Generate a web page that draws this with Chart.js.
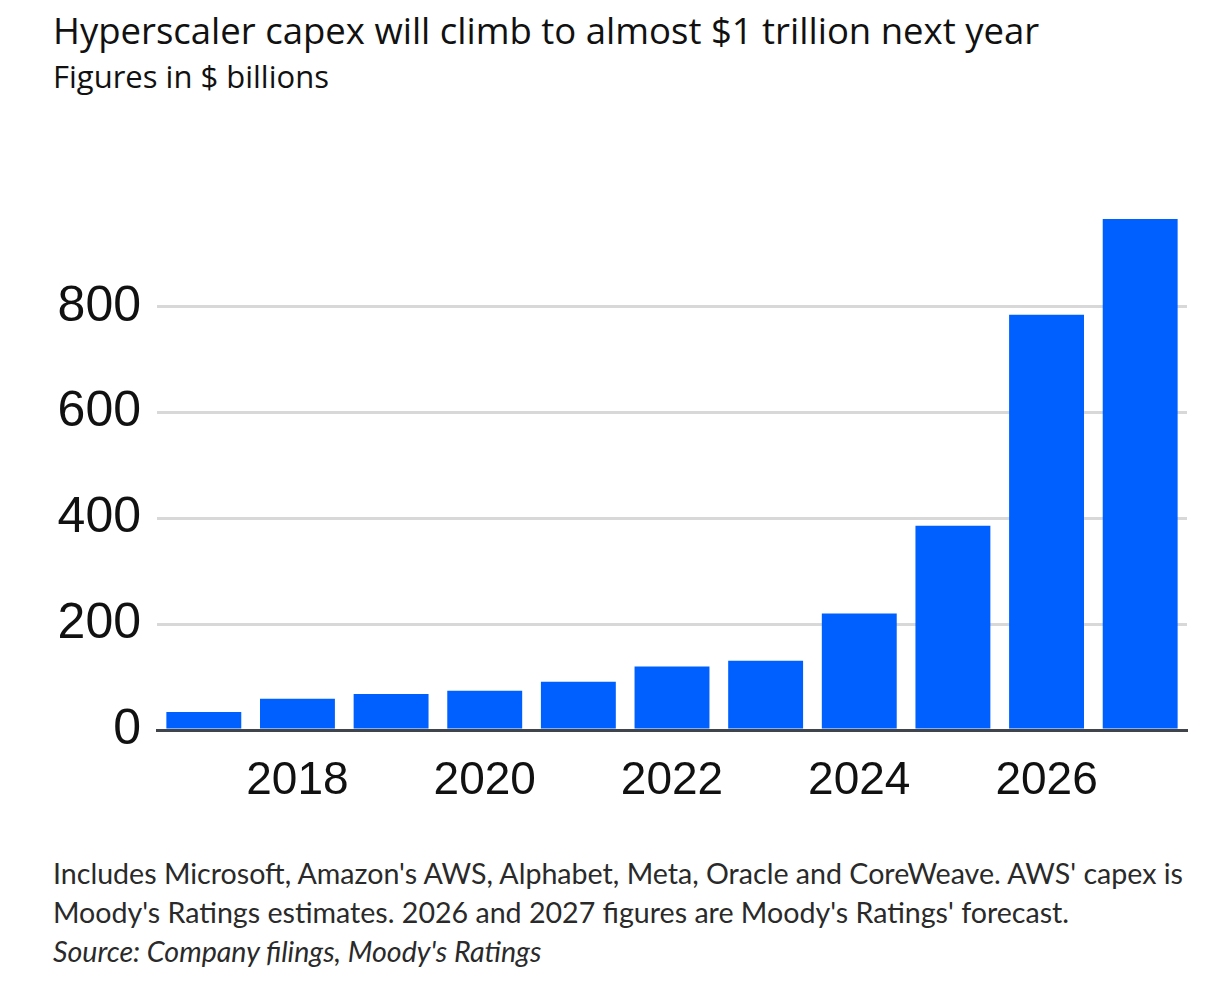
<!DOCTYPE html>
<html>
<head>
<meta charset="utf-8">
<script src="https://cdn.jsdelivr.net/npm/chart.js@4/dist/chart.umd.min.js"></script>
<style>
  body { margin: 0; background: #fff; width: 1212px; height: 988px; overflow: hidden; }
  .title { position: absolute; left: 53px; top: 5px; font-family: "Open Sans", sans-serif; font-weight: 500; font-size: 36.5px; color: #111; white-space: nowrap; }
  .subtitle { position: absolute; left: 53px; top: 55px; font-family: "Open Sans", sans-serif; font-weight: 500; font-size: 31px; color: #111; white-space: nowrap; }
  .chart-wrap { position: absolute; left: 0; top: 110px; width: 1212px; height: 700px; }
  .notes { position: absolute; left: 53px; top: 854px; font-family: Lato, sans-serif; font-size: 28.6px; line-height: 39px; color: #2a2a2a; white-space: nowrap; }
  .notes i { font-style: italic; }
</style>
</head>
<body>
<div class="title">Hyperscaler capex will climb to almost $1 trillion next year</div>
<div class="subtitle">Figures in $ billions</div>
<div class="chart-wrap"><canvas id="myChart" width="1212" height="700"></canvas></div>
<div class="notes">
  Includes Microsoft, Amazon's AWS, Alphabet, Meta, Oracle and CoreWeave. AWS' capex is<br>
  Moody's Ratings estimates. 2026 and 2027 figures are Moody's Ratings' forecast.<br>
  <i>Source: Company filings, Moody's Ratings</i>
</div>
<script>
const years = ['2017', '2018', '2019', '2020', '2021', '2022', '2023', '2024', '2025', '2026', '2027'];
const capex = [34, 59, 68, 74, 91, 120, 131, 220, 386, 785, 966];
const xTickLabels = ['2018', '2020', '2022', '2024', '2026'];
const yTickValues = [0, 200, 400, 600, 800];

const data = {
    labels: years,
    datasets: [
        {
            label: 'Capex',
            data: capex,
            backgroundColor: '#0060ff',
            borderWidth: 0,
            barPercentage: 0.8,
            categoryPercentage: 1
        }
    ]
};

const options = {
    responsive: false,
    animation: false,
    layout: {
        padding: { top: 91, right: 25, left: 0, bottom: 0 }
    },
    scales: {
        x: {
            grid: { display: false },
            border: { color: '#3f454b', width: 3 },
            afterFit: (scale) => { scale.height = 80; },
            ticks: {
                autoSkip: false,
                maxRotation: 0,
                padding: 16,
                font: { family: 'Liberation Sans', size: 46 },
                color: '#111',
                callback: function (value) {
                    const label = this.getLabelForValue(value);
                    return xTickLabels.includes(label) ? label : '';
                }
            }
        },
        y: {
            min: 0,
            max: 1000,
            afterFit: (scale) => { scale.width = 157; },
            afterBuildTicks: (scale) => {
                scale.ticks = yTickValues.map(v => ({ value: v }));
            },
            grid: {
                color: '#d8d8d8',
                lineWidth: 3,
                drawTicks: false
            },
            border: { display: false },
            ticks: {
                padding: 16,
                font: { family: 'Liberation Sans', size: 50 },
                color: '#111'
            }
        }
    },
    plugins: {
        legend: { display: false },
        tooltip: { enabled: false },
        title: { display: false }
    }
};

const chart = new Chart('myChart', {
    type: 'bar',
    data: data,
    options: options
});
</script>
</body>
</html>
